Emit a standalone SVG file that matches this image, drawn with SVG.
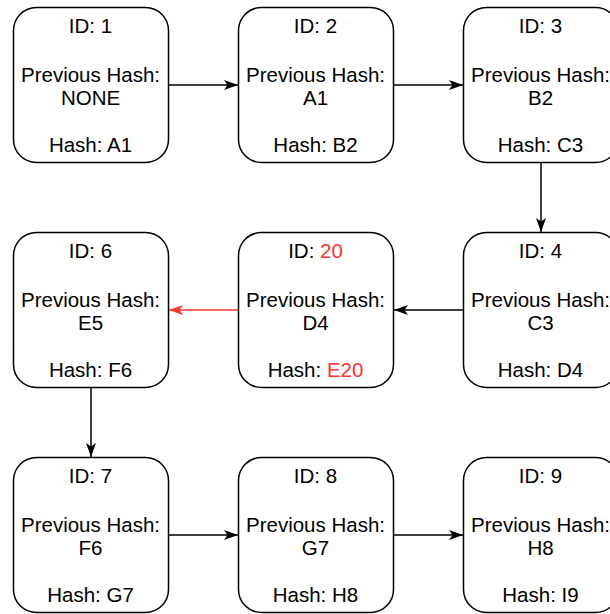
<svg xmlns="http://www.w3.org/2000/svg" width="610" height="614" viewBox="0 0 610 614">
<style>
.box{fill:#ffffff;stroke:#000000;stroke-width:1.5}
text{font-family:"Liberation Sans",Arial,Helvetica,sans-serif;font-size:20.5px;fill:#000000;text-anchor:middle}
.red{fill:#FF3333}
.edge{fill:none;stroke:#000000;stroke-width:1.5}
.edge.r{stroke:#FF3333}
</style>
<defs>
<marker id="ah" markerUnits="userSpaceOnUse" viewBox="0 0 14 10" refX="14" refY="5" markerWidth="14" markerHeight="10" orient="auto">
<path d="M0,0 L14,5 L0,10 L3.5,5 Z" fill="#000000"/>
</marker>
<marker id="ahr" markerUnits="userSpaceOnUse" viewBox="0 0 14 10" refX="14" refY="5" markerWidth="14" markerHeight="10" orient="auto">
<path d="M0,0 L14,5 L0,10 L3.5,5 Z" fill="#FF3333"/>
</marker>
</defs>
<g id="connectors">
<path class="edge" d="M169,85 L238,85" marker-end="url(#ah)"/>
<path class="edge" d="M394,85 L463,85" marker-end="url(#ah)"/>
<path class="edge" d="M541,163 L541,232" marker-end="url(#ah)"/>
<path class="edge" d="M463,310 L394,310" marker-end="url(#ah)"/>
<path class="edge r" d="M238,310 L169,310" marker-end="url(#ahr)"/>
<path class="edge" d="M91,388 L91,457" marker-end="url(#ah)"/>
<path class="edge" d="M169,535 L238,535" marker-end="url(#ah)"/>
<path class="edge" d="M394,535 L463,535" marker-end="url(#ah)"/>
</g>
<g id="node1">
<rect class="box" x="13.5" y="7.5" width="155" height="155" rx="23" ry="23"/>
<text x="90.5" y="33">ID: 1</text>
<text x="90.5" y="81.5">Previous Hash:</text>
<text x="90.5" y="105">NONE</text>
<text x="90.5" y="152">Hash: A1</text>
</g>
<g id="node2">
<rect class="box" x="238.5" y="7.5" width="155" height="155" rx="23" ry="23"/>
<text x="315.5" y="33">ID: 2</text>
<text x="315.5" y="81.5">Previous Hash:</text>
<text x="315.5" y="105">A1</text>
<text x="315.5" y="152">Hash: B2</text>
</g>
<g id="node3">
<rect class="box" x="463.5" y="7.5" width="155" height="155" rx="23" ry="23"/>
<text x="540.5" y="33">ID: 3</text>
<text x="540.5" y="81.5">Previous Hash:</text>
<text x="540.5" y="105">B2</text>
<text x="540.5" y="152">Hash: C3</text>
</g>
<g id="node4">
<rect class="box" x="463.5" y="232.5" width="155" height="155" rx="23" ry="23"/>
<text x="540.5" y="258">ID: 4</text>
<text x="540.5" y="306.5">Previous Hash:</text>
<text x="540.5" y="330">C3</text>
<text x="540.5" y="377">Hash: D4</text>
</g>
<g id="node20">
<rect class="box" x="238.5" y="232.5" width="155" height="155" rx="23" ry="23"/>
<text x="315.5" y="258">ID: <tspan class="red">20</tspan></text>
<text x="315.5" y="306.5">Previous Hash:</text>
<text x="315.5" y="330">D4</text>
<text x="315.5" y="377">Hash: <tspan class="red">E20</tspan></text>
</g>
<g id="node6">
<rect class="box" x="13.5" y="232.5" width="155" height="155" rx="23" ry="23"/>
<text x="90.5" y="258">ID: 6</text>
<text x="90.5" y="306.5">Previous Hash:</text>
<text x="90.5" y="330">E5</text>
<text x="90.5" y="377">Hash: F6</text>
</g>
<g id="node7">
<rect class="box" x="13.5" y="457.5" width="155" height="155" rx="23" ry="23"/>
<text x="90.5" y="483">ID: 7</text>
<text x="90.5" y="531.5">Previous Hash:</text>
<text x="90.5" y="555">F6</text>
<text x="90.5" y="602">Hash: G7</text>
</g>
<g id="node8">
<rect class="box" x="238.5" y="457.5" width="155" height="155" rx="23" ry="23"/>
<text x="315.5" y="483">ID: 8</text>
<text x="315.5" y="531.5">Previous Hash:</text>
<text x="315.5" y="555">G7</text>
<text x="315.5" y="602">Hash: H8</text>
</g>
<g id="node9">
<rect class="box" x="463.5" y="457.5" width="155" height="155" rx="23" ry="23"/>
<text x="540.5" y="483">ID: 9</text>
<text x="540.5" y="531.5">Previous Hash:</text>
<text x="540.5" y="555">H8</text>
<text x="540.5" y="602">Hash: I9</text>
</g>
</svg>
